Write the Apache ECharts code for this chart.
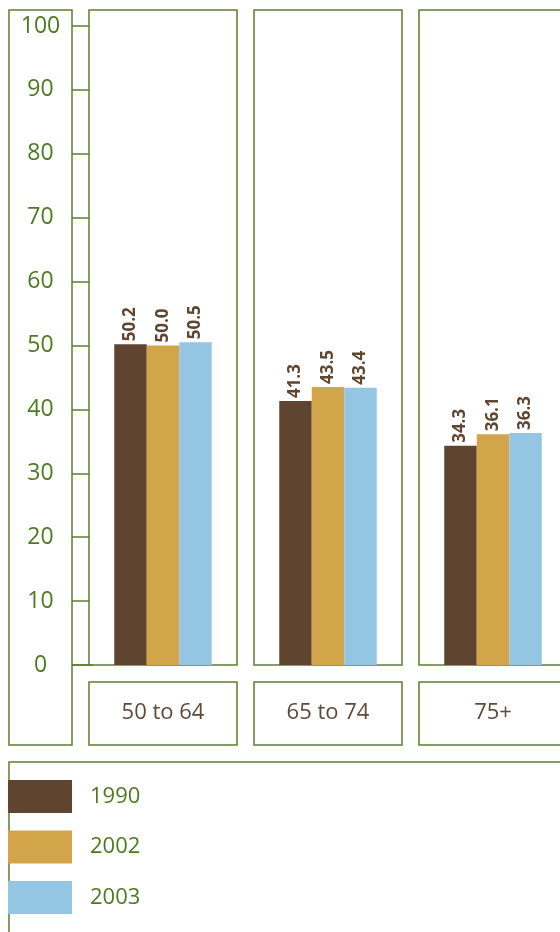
<!DOCTYPE html>
<html>
<head>
<meta charset="utf-8">
<script src="https://cdn.jsdelivr.net/npm/echarts@6/dist/echarts.min.js"></script>
<style>html,body{margin:0;padding:0;background:#fff;overflow:hidden;}#c{width:600px;height:932px;}</style>
</head>
<body>
<div id="c"></div>
<script>
var categories = ['50 to 64', '65 to 74', '75+'];
var years = ['1990', '2002', '2003'];
var v1990 = [50.2, 41.3, 34.3];
var v2002 = [50.0, 43.5, 36.1];
var v2003 = [50.5, 43.4, 36.3];
var yTicks = [0, 10, 20, 30, 40, 50, 60, 70, 80, 90, 100];

var seriesValues = [v1990, v2002, v2003];
var colors = ['#5f4530', '#d2a54a', '#94c5e3'];
var green = '#5b7f2c';
var textGreen = '#4d7a20';
var brown = '#5e4a3a';
var font = 'Open Sans';

var chart = echarts.init(document.getElementById('c'), null, {renderer: 'canvas'});

var grids = [], xAxes = [], yAxes = [], series = [], graphics = [];
var panelLeft = 89, panelStep = 165, panelW = 148;

graphics.push({type: 'rect', shape: {x: 9, y: 10, width: 63, height: 735},
  style: {fill: 'none', stroke: green, lineWidth: 1.5}, z: 0});
graphics.push({type: 'rect', shape: {x: 9, y: 762, width: 700, height: 300},
  style: {fill: 'none', stroke: green, lineWidth: 1.5}, z: 0});
graphics.push({type: 'line', shape: {x1: 72, y1: 665, x2: 93, y2: 665},
  style: {stroke: green, lineWidth: 1.5}, z: 0});

for (var i = 0; i < categories.length; i++) {
  var left = panelLeft + panelStep * i;
  grids.push({left: left, top: 26, width: panelW, height: 639, containLabel: false});
  graphics.push({type: 'rect', shape: {x: left, y: 10, width: panelW, height: 655},
    style: {fill: 'none', stroke: green, lineWidth: 1.5}, z: 0});
  graphics.push({type: 'rect', shape: {x: left, y: 682, width: panelW, height: 63},
    style: {fill: 'none', stroke: green, lineWidth: 1.5}, z: 0});
  xAxes.push({
    type: 'category', gridIndex: i, data: [categories[i]],
    axisLine: {show: false}, axisTick: {show: false},
    axisLabel: {margin: 48, verticalAlign: 'middle', color: brown, fontSize: 22, fontFamily: font}
  });
  yAxes.push({
    type: 'value', gridIndex: i, min: 0, max: 100, interval: 10,
    splitLine: {show: false},
    axisLine: {show: false},
    axisTick: {show: i === 0, length: 17, lineStyle: {color: green, width: 1.5}},
    axisLabel: {show: i === 0, margin: 48.5, align: 'center', color: textGreen, fontSize: 23, fontFamily: font,
      customValues: yTicks}
  });
  for (var s = 0; s < years.length; s++) {
    series.push({
      name: years[s], type: 'bar', xAxisIndex: i, yAxisIndex: i,
      data: [seriesValues[s][i]],
      barWidth: 32.5, barGap: '0%',
      itemStyle: {color: colors[s]},
      z: 3,
      label: {
        show: true, position: 'top', rotate: 90, align: 'left', verticalAlign: 'middle',
        distance: 3, color: '#5e4630', fontWeight: 'bold', fontSize: 17, fontFamily: font,
        formatter: function (p) { return p.value.toFixed(1); }
      }
    });
  }
}

chart.setOption({
  animation: false,
  grid: grids,
  xAxis: xAxes,
  yAxis: yAxes,
  series: series,
  color: colors,
  legend: {
    orient: 'vertical', left: 8, top: 780, padding: 0,
    itemWidth: 64, itemHeight: 33, itemGap: 17.5,
    icon: 'rect',
    data: years,
    textStyle: {color: textGreen, fontSize: 22, fontFamily: font, padding: [0, 0, 0, 13]}
  },
  graphic: graphics
});
</script>
</body>
</html>
